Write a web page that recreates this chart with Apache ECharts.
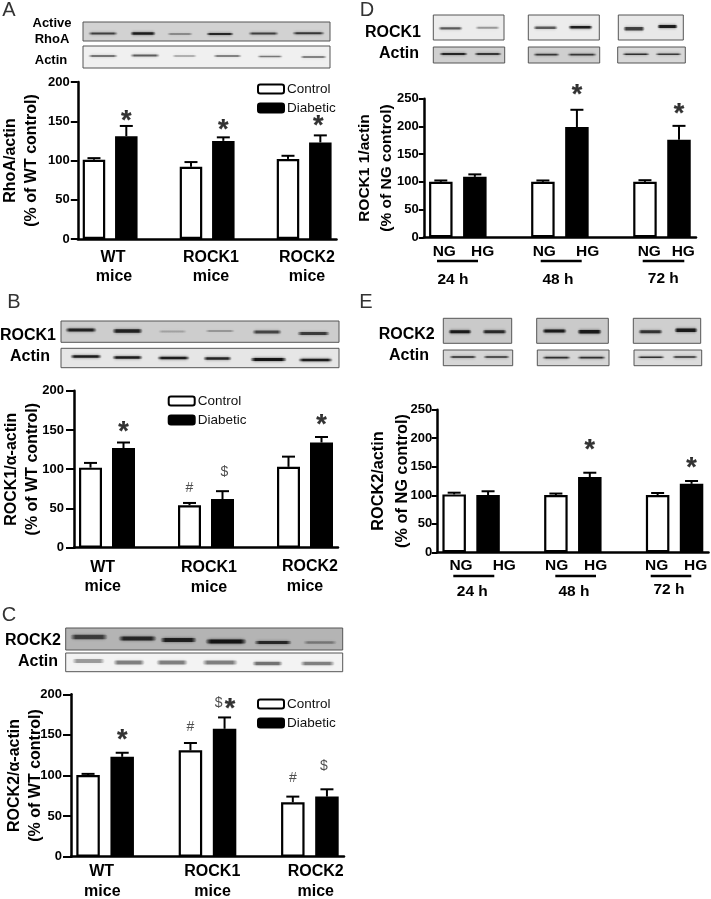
<!DOCTYPE html>
<html><head><meta charset="utf-8">
<style>html,body{margin:0;padding:0;background:#fff}#c{width:711px;height:899px;filter:blur(0.35px)}</style>
<script src="https://cdn.jsdelivr.net/npm/echarts@6/dist/echarts.min.js"></script>
</head><body><div id="c"></div>
<script>
// ---- data ----
const aCats=['WT Control','WT Diabetic',' ','ROCK1 Control','ROCK1 Diabetic','  ','ROCK2 Control','ROCK2 Diabetic'];
const dCats=['24 h NG','24 h HG',' ','48 h NG','48 h HG','  ','72 h NG','72 h HG'];
const aControl=[101,92,102], aDiabetic=[131,125,123], aControlTop=[103,98,106], aDiabeticTop=[144,129.5,132];
const bControl=[102,54,103], bDiabetic=[127,62,134], bControlTop=[108,57,116], bDiabeticTop=[134,72,141];
const cControl=[100.5,131,67], cDiabetic=[123,157.5,74], cControlTop=[102,140,74], cDiabeticTop=[128,171.5,83];
const dControl=[100,100,100], dDiabetic=[109,199,176], dControlTop=[102.5,102.5,103], dDiabeticTop=[113.5,230,201];
const eControl=[101.5,100.5,100.5], eDiabetic=[100.5,132,120], eControlTop=[104.5,103,104], eDiabeticTop=[107,139.5,125];
const aMarks=[['*',1,156],['*',4,144],['*',7,150]];
const bMarks=[['*',1,153],['*',7,162],['#',3,76],['$',4,96]];
const cMarks=[['*',1,149],['#',3,159],['$',4,189],['*',4,187],['#',6,97],['$',7,112]];
const dMarks=[['*',4,264],['*',7,229.6]];
const eMarks=[['*',4,188],['*',7,155]];
const markShift={c:{2:-6,3:5.5,5:-3},b:{3:2},a:{2:-2}};
const miceLabels=['WT','mice','ROCK1','mice','ROCK2','mice'];
const timeLabels=['NG','HG','24 h','NG','HG','48 h','NG','HG','72 h'];

// ---- layout ----
const panels={
 a:{cats:aCats,c:aControl,d:aDiabetic,ct:aControlTop,dt:aDiabeticTop,m:aMarks,left:77.8,right:336.5,top:82,bottom:239,max:200,bw:22.5,cap:13,name:'RhoA/actin\n(% of WT control)',gap:36,nameFs:16,lh:21,margin:8,tick:7},
 b:{cats:aCats,c:bControl,d:bDiabetic,ct:bControlTop,dt:bDiabeticTop,m:bMarks,left:74,right:338,top:390.7,bottom:547.7,max:200,bw:23,cap:13,name:'ROCK1/α-actin\n(% of WT control)',gap:30.5,nameFs:16,lh:21,margin:10,tick:8},
 c:{cats:aCats,c:cControl,d:cDiabetic,ct:cControlTop,dt:cDiabeticTop,m:cMarks,left:71,right:344,top:694.3,bottom:856.7,max:200,bw:23.5,cap:13,name:'ROCK2/α-actin\n(% of WT control)',gap:24.5,nameFs:16,lh:21,margin:9,tick:8},
 d:{cats:dCats,c:dControl,d:dDiabetic,ct:dControlTop,dt:dDiabeticTop,m:dMarks,left:423.8,right:696,top:98.7,bottom:237.3,max:250,bw:23.5,cap:13,name:'ROCK1 1/actin\n(% of NG control)',gap:26,nameFs:15.5,lh:22,margin:5,tick:5},
 e:{cats:dCats,c:eControl,d:eDiabetic,ct:eControlTop,dt:eDiabeticTop,m:eMarks,left:437.2,right:708.5,top:409.7,bottom:552.3,max:250,bw:23.5,cap:13,name:'ROCK2/actin\n(% of NG control)',gap:23,nameFs:16.3,lh:24,margin:5,tick:5.5}
};
const legends=[['a',257,82],['b',167.7,394],['c',257,697]];
const miceLayout=[
 [[113,258],[114,277],[211,258],[211,277],[307,258],[307,277]],
 [[102.7,567.5],[102.7,587],[209,568],[209,588],[310,567],[305,587]],
 [[101.7,872],[102.3,892],[212.3,872],[212.6,892],[315.7,872],[315.7,892]]];
const timeLayout=[
 [[444.3,251.7],[482.7,251.7],[453,280],[544.3,251.7],[587.7,251.7],[558,280],[649.3,251.7],[683.3,251.7],[663.3,279]],
 [[461,566],[504.3,566],[472.3,591.7],[556.7,566],[595.7,566],[574,591.7],[656.7,566],[695.7,566],[669,590]]];
const underlines=[[437,478,261],[540.7,581.7,261],[642.7,684.3,261],[453.3,494.3,576],[555.3,596,576],[650.7,691.3,576]];
const labels=[
 ['A',9,10,'l'],['B',14,302,'l'],['C',9,615,'l'],['D',367,10,'l'],['E',366,302,'l'],
 ['Active',52,23,'s'],['RhoA',52,39,'s'],['Actin',51,60,'s'],
 ['ROCK1',28,336,'m'],['Actin',30,357,'m'],
 ['ROCK2',33,641,'m'],['Actin',38,662,'m'],
 ['ROCK1',393,33,'m'],['Actin',399,54,'m'],
 ['ROCK2',406.7,335,'m'],['Actin',409,356,'m']];
// blots: strip box + bands [x0,x1,y,thickness,darkness]
const blots=[
 [83,22,330,41,'#d2d2d2',[[88,118,33.5,2,.7],[130,156,33.5,2.6,.9],[167,193,34,1.4,.45],[206,234,34,2.2,.85],[248,279,33.5,2,.7],[292,325,33.3,2,.75]]],
 [83,46,330,68,'#f0f0f0',[[88,118,56,1.6,.65],[130,160,55.5,1.8,.6],[172,197,56,1.4,.35],[213,242,56,1.8,.45],[257,283,56.5,1.6,.5],[300,327,57,1.8,.45]]],
 [61,321,339,342.3,'#cdcdcd',[[65,97,330,3.2,.85],[112,143,331,3.4,.85],[158,187,331.5,2.2,.22],[205,235,331,2.2,.27],[252,282,332,3,.65],[297,330,333.5,3,.7]]],
 [61,348.3,339,367.7,'#e6e6e6',[[70,102,356.5,2.6,.9],[112,143,357.5,2.6,.9],[157,190,358,2.6,.9],[203,232,358.5,2.4,.85],[250,287,359.5,3,.95],[298,333,360,2.6,.9]]],
 [65.7,628,342.7,650,'#b4b4b4',[[70,108,637,4.5,.65],[118,157,638.5,4.2,.8],[160,197,640,4,.85],[205,247,641.5,4,.95],[254,292,642.5,3,.8],[303,337,642.5,2.4,.35]]],
 [65.7,653,342.7,671.7,'#f3f3f3',[[72,105,661,4,.35],[113,145,662.5,4,.45],[156,188,662.5,4,.45],[202,238,662.5,4,.45],[252,283,663.5,3.4,.5],[300,335,663.5,3.4,.45]]],
 [433.3,15,504,40,'#ececec',[[438,463,28.3,2.2,.6],[475,500,27.7,2,.35]]],
 [528.3,15,599.3,40,'#ececec',[[533,558,27.7,2.4,.6],[568,593,27.3,2.6,.9]]],
 [618.3,15,683.3,40,'#e8e8e8',[[623,645,28.7,3.4,.7],[657,678,26.5,3,.9]]],
 [433.3,47,504.7,63,'#cfcfcf',[[439,468,54,2,.85],[474,502,54,1.8,.75]]],
 [528.3,47,599.7,63,'#cfcfcf',[[533,560,54.7,1.8,.75],[567,597,54.7,1.8,.75]]],
 [617.7,47,685.3,63,'#d8d8d8',[[622,650,54.3,1.6,.8],[655,682,54.3,1.6,.75]]],
 [443.3,318.3,511.7,343.3,'#cacaca',[[448,472,331.7,3,.9],[482,507,331.7,3,.8]]],
 [536.7,318.3,608.3,343.3,'#cacaca',[[542,567,331,3,.9],[577,602,331.7,3.4,.9]]],
 [633.3,318.3,700.7,343.3,'#cfcfcf',[[638,663,331.7,3,.75],[674,698,330.3,3.4,.9]]],
 [443.3,350,512.7,365.7,'#d6d6d6',[[449,477,357,1.7,.85],[483,510,357,1.7,.8]]],
 [537.3,350,609,365.7,'#d6d6d6',[[542,571,357.7,1.7,.8],[577,606,357.7,1.7,.8]]],
 [634,350,701.7,365.7,'#dcdcdc',[[637,665,357.3,1.6,.8],[672,698,357,1.7,.8]]]
];

// ---- chart ----
const W=711,H=899,keys=Object.keys(panels);
const grid=[],xAxis=[],yAxis=[],series=[];
const slotC=[0,3,6],slotD=[1,4,7];
function spread(vals,slots){const a=Array(8).fill(null);vals.forEach((v,i)=>a[slots[i]]=v);return a;}
const errRender=cap=>(params,api)=>{
  const x=api.value(0),base=api.coord([x,api.value(1)]),top=api.coord([x,api.value(2)]);
  const st={stroke:'#000',lineWidth:2};
  return {type:'group',children:[
    {type:'line',shape:{x1:base[0],y1:base[1],x2:top[0],y2:top[1]},style:st},
    {type:'line',shape:{x1:top[0]-cap/2,y1:top[1],x2:top[0]+cap/2,y2:top[1]},style:st}]};
};
keys.forEach((k,i)=>{
  const p=panels[k];
  grid.push({left:p.left,width:p.right-p.left,top:p.top,height:p.bottom-p.top,containLabel:false,outerBoundsMode:'none'});
  xAxis.push({type:'category',gridIndex:i,data:p.cats,axisTick:{show:false},axisLabel:{show:false},
    axisLine:{onZero:false,lineStyle:{color:'#000',width:2.5}}});
  yAxis.push({type:'value',gridIndex:i,min:0,max:p.max,interval:50,splitLine:{show:false},
    axisLine:{show:true,lineStyle:{color:'#000',width:2.5}},
    axisTick:{show:true,length:p.tick,lineStyle:{color:'#000',width:2}},
    axisLabel:{color:'#000',fontWeight:'bold',fontSize:13,margin:p.margin,fontFamily:'Liberation Sans'},
    name:p.name,nameLocation:'middle',nameRotate:90,nameGap:p.gap,nameMoveOverlap:false,
    nameTextStyle:{color:'#000',fontWeight:'bold',fontSize:p.nameFs,lineHeight:p.lh,fontFamily:'Liberation Sans'}});
  const errs=[];
  p.c.forEach((v,j)=>errs.push([slotC[j],v,p.ct[j]]));
  p.d.forEach((v,j)=>errs.push([slotD[j],v,p.dt[j]]));
  series.push({type:'custom',name:'SEM '+k,xAxisIndex:i,yAxisIndex:i,renderItem:errRender(p.cap),data:errs,z:1,silent:true,clip:false});
  series.push({type:'bar',name:'Control',xAxisIndex:i,yAxisIndex:i,data:spread(p.c,slotC),barWidth:p.bw,barGap:'-100%',z:2,
    itemStyle:{color:'#fff',borderColor:'#000',borderWidth:2.2}});
  series.push({type:'bar',name:'Diabetic',xAxisIndex:i,yAxisIndex:i,data:spread(p.d,slotD),barWidth:p.bw,barGap:'-100%',z:2,
    itemStyle:{color:'#000',borderColor:'#000',borderWidth:2}});
  const shift=markShift[k]||{};
  series.push({type:'scatter',name:'marks '+k,xAxisIndex:i,yAxisIndex:i,symbolSize:0,clip:false,silent:true,z:5,
    data:p.m.map((m,j)=>{const star=m[0]==='*';return {value:[m[1],m[2]],
      label:{show:true,position:'inside',formatter:m[0],color:star?'#000':'#222',fontFamily:'Liberation Sans',
        fontWeight:star?'bold':'normal',fontSize:star?27:14,offset:[shift[j]||0,star?5:0],
        textBorderColor:star?'#000':'transparent',textBorderWidth:star?0.25:0}};})});
});

const legend=legends.map(l=>({data:['Control','Diabetic'],orient:'vertical',left:l[1],top:l[2],itemWidth:26,itemHeight:9,itemGap:5,
  padding:0,selectedMode:false,textStyle:{color:'#111',fontSize:13.5,padding:[0,0,0,-2],fontFamily:'Liberation Sans'}}));

const gfx=[];
function txt(s,x,y,font,fill){gfx.push({type:'text',silent:true,style:{text:s,x,y,align:'center',verticalAlign:'middle',font,fill:fill||'#000'}});}
blots.forEach(b=>{
  gfx.push({type:'rect',silent:true,shape:{x:b[0],y:b[1],width:b[2]-b[0],height:b[3]-b[1]},style:{fill:b[4],stroke:'#555',lineWidth:1}});
  b[5].forEach(s=>{
    const c='rgba(15,15,15,'+s[4]+')',c0='rgba(15,15,15,0)';
    gfx.push({type:'rect',silent:true,shape:{x:s[0],y:s[2]-s[3]/2,width:s[1]-s[0],height:s[3],r:s[3]/2},
      style:{fill:{type:'linear',x:0,y:0,x2:1,y2:0,colorStops:[{offset:0,color:c0},{offset:.15,color:c},{offset:.85,color:c},{offset:1,color:c0}]},shadowBlur:3,shadowColor:'rgba(15,15,15,'+(s[4]*.7)+')'}});
  });
});
labels.forEach(l=>{
  const f={l:'normal 20px "Liberation Sans"',s:'bold 13px "Liberation Sans"',m:'bold 16px "Liberation Sans"'}[l[3]];
  txt(l[0],l[1],l[2],f,l[3]==='l'?'#333':'#000');
});
miceLayout.forEach(set=>set.forEach((pos,i)=>txt(miceLabels[i],pos[0],pos[1],'bold 16px "Liberation Sans"')));
timeLayout.forEach(set=>set.forEach((pos,i)=>txt(timeLabels[i],pos[0],pos[1],'bold 15.5px "Liberation Sans"')));
underlines.forEach(u=>gfx.push({type:'line',silent:true,shape:{x1:u[0],y1:u[2],x2:u[1],y2:u[2]},style:{stroke:'#000',lineWidth:2.5}}));

const chart=echarts.init(document.getElementById('c'),null,{width:W,height:H});
chart.setOption({animation:false,backgroundColor:'#fff',grid,xAxis,yAxis,legend,series,graphic:{elements:gfx}});
</script></body></html>
